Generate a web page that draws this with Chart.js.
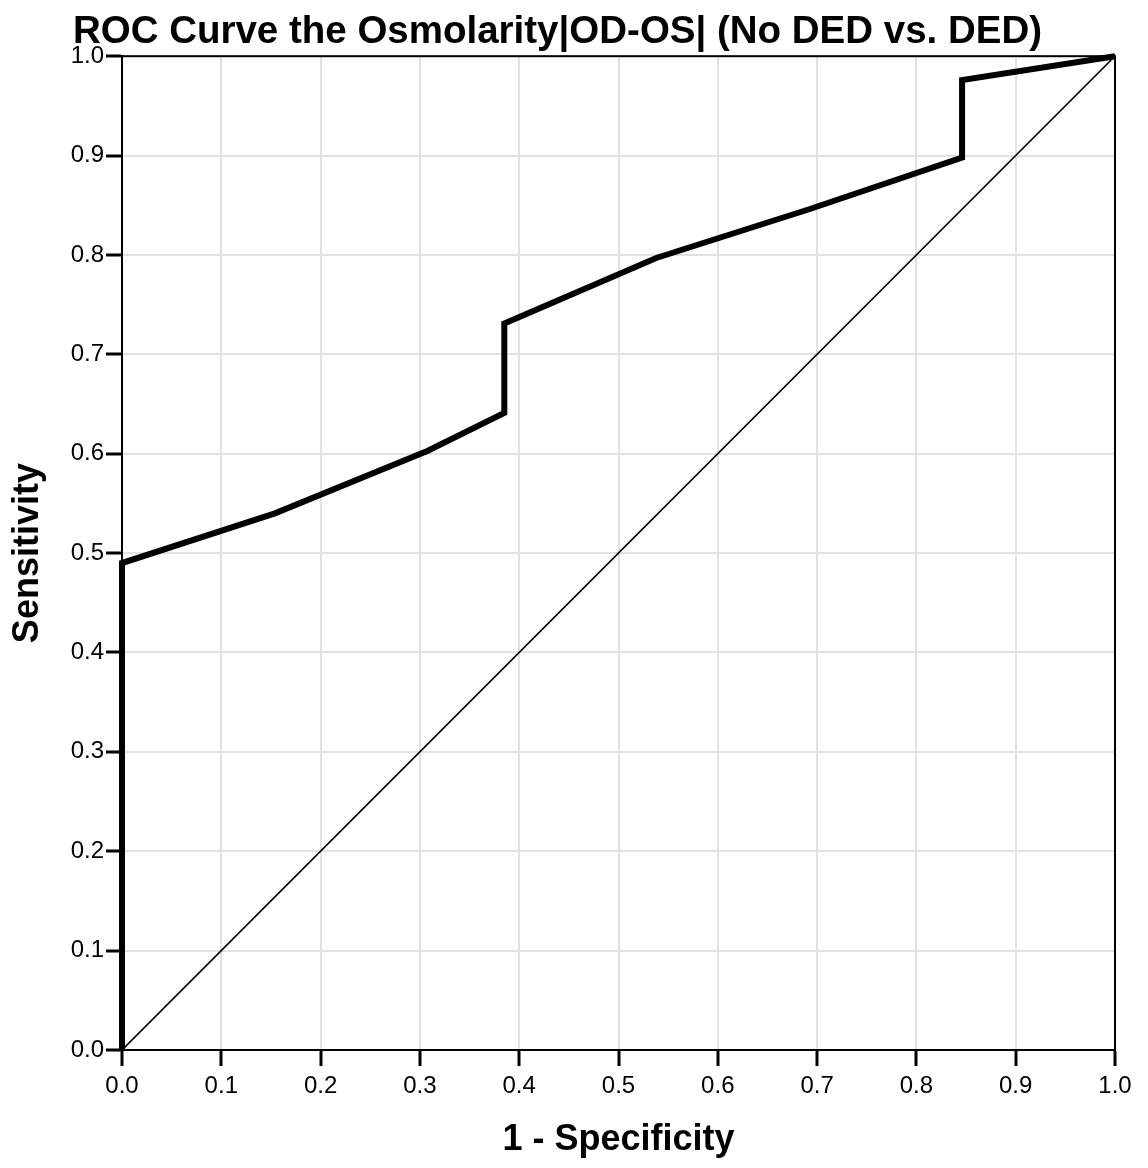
<!DOCTYPE html>
<html>
<head>
<meta charset="utf-8">
<script src="https://cdn.jsdelivr.net/npm/chart.js@4"></script>
<style>
  html, body { margin: 0; padding: 0; background: #fff; }
  #wrap { width: 1148px; height: 1168px; }
</style>
</head>
<body>
<div id="wrap"><canvas id="rocChart" width="1148" height="1168"></canvas></div>
<script>
const specificityInv = [0, 0, 0.154, 0.308, 0.385, 0.385, 0.538, 0.692, 0.846, 0.846, 1];
const sensitivity = [0, 0.49, 0.54, 0.603, 0.641, 0.731, 0.797, 0.846, 0.898, 0.976, 1];
const refX = [0, 1];
const refY = [0, 1];
const tickValues = [0, 0.1, 0.2, 0.3, 0.4, 0.5, 0.6, 0.7, 0.8, 0.9, 1];

const fontFamily = '"Liberation Sans", Arial, Helvetica, sans-serif';

// Marco completo alrededor del área del gráfico
const framePlugin = {
    id: 'frame',
    afterDraw(chart) {
        const { ctx, chartArea: a } = chart;
        ctx.save();
        ctx.strokeStyle = '#000';
        ctx.lineWidth = 2;
        ctx.strokeRect(a.left, a.top, a.right - a.left, a.bottom - a.top);
        ctx.restore();
    }
};

function axisOptions(titleText, titlePad, tickPad) {
    return {
        type: 'linear',
        min: 0,
        max: 1,
        afterBuildTicks(scale) {
            scale.ticks = tickValues.map(v => ({ value: v }));
        },
        ticks: {
            color: '#000',
            font: { family: fontFamily, size: 24 },
            padding: tickPad,
            callback: v => Number(v).toFixed(1)
        },
        grid: {
            color: '#e2e2e2',
            lineWidth: 2,
            tickColor: '#000',
            tickWidth: 3,
            tickLength: 16
        },
        border: { color: '#000', width: 2 },
        title: {
            display: true,
            text: titleText,
            color: '#000',
            font: { family: fontFamily, size: 36, weight: 'bold' },
            padding: titlePad
        }
    };
}

const xOpts = axisOptions('1 - Specificity', { top: 0, bottom: 6 }, 6);
xOpts.afterFit = scale => { scale.height = 118; };
const yOpts = axisOptions('Sensitivity', { top: 6, bottom: 0 }, 2);
yOpts.afterFit = scale => { scale.width = 122; };

const chartRoc = new Chart(document.getElementById('rocChart'), {
    type: 'scatter',
    data: {
        datasets: [
            {
                data: specificityInv.map((x, i) => ({ x: x, y: sensitivity[i] })),
                showLine: true,
                borderColor: '#000',
                borderWidth: 6,
                borderJoinStyle: 'miter',
                pointRadius: 0,
                fill: false,
                clip: false
            },
            {
                data: refX.map((x, i) => ({ x: x, y: refY[i] })),
                showLine: true,
                borderColor: '#000',
                borderWidth: 1.6,
                pointRadius: 0,
                fill: false
            }
        ]
    },
    options: {
        responsive: false,
        animation: false,
        layout: { padding: { left: 0, right: 33, top: 0, bottom: 0 } },
        plugins: {
            legend: { display: false },
            tooltip: { enabled: false },
            title: {
                display: true,
                text: 'ROC Curve the Osmolarity|OD-OS| (No DED vs. DED)',
                color: '#000',
                font: { family: fontFamily, size: 38.5, weight: 'bold' },
                padding: { top: 9, bottom: 1 }
            }
        },
        scales: { x: xOpts, y: yOpts }
    },
    plugins: [framePlugin]
});
</script>
</body>
</html>
